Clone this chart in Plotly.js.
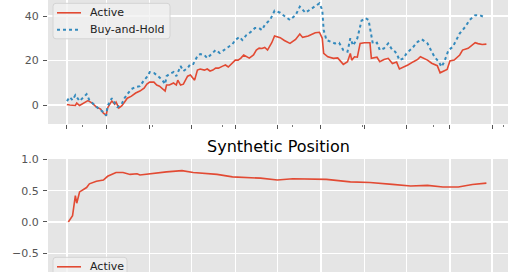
<!DOCTYPE html>
<html>
<head>
<meta charset="utf-8">
<script src="https://cdn.plot.ly/plotly-3.0.1.min.js"></script>
<style>
html,body{margin:0;padding:0;background:#fff;overflow:hidden;}
#chart{width:520px;height:292px;}
</style>
</head>
<body>
<div id="chart"></div>
<script>
// x values: trading days since start (gridlines at month starts)
const activeDays = [0,2,6,7,9,12,15,18,21,24,26,28,29,31,32,34,35,37,39,41,43,46,49,52,55,57,59,62,64,66,68,70,71,73,76,78,79,81,83,86,88,90,91,93,95,98,100,102,104,106,108,111,113,115,118,120,122,124,126,128,130,133,135,137,139,141,143,146,148,152,155,159,163,166,168,172,175,177,180,182,183,186,190,193,197,200,202,203,205,207,209,212,216,217,221,223,226,229,232,235,237,240,243,247,250,252,255,257,260,264,266,269,271,273,276,280,282,286,289,291,293,296,299];
const activeValues = [0.3,0,-0.2,0.9,-0.2,0.9,2.0,0.9,-0.9,-1.8,-3.6,-4.5,-1.3,0.9,1.8,0.4,1.3,-1.3,-0.4,1.3,3.1,4.0,5.4,6.3,7.6,9.4,10.3,10.3,9.0,8.5,7.6,6.3,9.0,9.0,9.9,9.0,11.2,9.0,9.4,13.0,13.5,12.1,11.2,15.7,16.2,15.7,16.2,15.3,15.7,16.6,16.6,17.5,18.0,17.1,18.9,20.2,20.2,21.1,22.5,21.6,21.1,22.5,24.7,25.6,25.4,25.9,24.7,28.0,31.0,30.3,29.0,27.7,29.5,31.9,30.4,31.0,31.9,32.5,32.7,30.0,23.2,21.7,21.0,21.2,18.3,19.5,23.2,20.2,21.7,21.5,27.7,28.0,28.0,21.0,21.5,19.5,20.5,21.0,18.7,19.3,16.2,17.0,18.0,19.5,20.5,21.7,21.0,20.2,18.8,17.7,14.5,15.5,16.0,19.8,20.2,22.5,24.7,25.5,26.8,28.0,27.6,27.2,27.4];

const holdDays = [0,2,4,6,9,11,14,16,19,22,25,28,29,31,32,34,36,39,41,43,46,49,52,55,57,59,62,65,68,70,71,73,76,78,81,83,86,88,90,93,95,98,100,103,106,109,112,115,118,120,123,125,128,131,134,137,139,141,145,148,152,155,159,163,166,170,173,177,180,182,183,185,188,191,194,197,200,202,204,207,210,213,215,217,218,221,223,226,229,232,234,236,237,240,242,246,250,253,257,260,262,265,267,269,272,275,278,280,284,287,291,294,298];
const holdValues = [1.8,3.6,2.2,4.5,1.8,3.1,4.9,2.2,0.4,-1.3,-2.7,-4.7,-0.4,2.2,3.1,0.9,-0.9,0.4,3.1,4.9,7.2,8.1,8.5,11.2,12.6,14.8,14.4,13.0,11.2,9.4,13.0,13.9,14.8,13.0,17.5,15.3,16.6,18.4,18.4,22.0,22.9,22.5,21.1,22.9,24.7,23.4,24.7,26.1,27.4,29.2,30.6,29.2,31.5,32.8,34.6,34.6,33.7,36.0,38.5,42.4,41.5,40.0,38.2,40.4,44.2,41.5,42.7,44.5,45.7,42.7,33.7,29.2,28.4,27.7,28.0,24.7,24.0,30.0,26.7,30.0,37.9,39.0,38.2,32.2,27.7,28.0,24.7,25.5,27.7,24.7,24.0,21.7,20.2,21.0,23.2,25.5,28.4,29.5,27.7,24.0,21.7,19.5,17.2,19.5,24.7,26.1,30.0,32.2,35.2,38.2,40.4,40.4,39.4];

const posDays = [1,4,6,7,9,14,16,21,26,29,35,40,45,50,52,59,71,82,90,107,118,138,150,161,185,202,216,232,245,257,268,279,289,299];
const posValues = [0,0.10,0.42,0.30,0.48,0.55,0.61,0.65,0.67,0.73,0.79,0.79,0.76,0.77,0.75,0.77,0.80,0.82,0.79,0.76,0.72,0.70,0.67,0.69,0.68,0.64,0.63,0.60,0.575,0.585,0.56,0.56,0.60,0.62];

const monthTicks = [0,28,59,89,120,150,181,212,242,273,303];
const topYTicks = [0,20,40];
const botYTicks = [-0.5,0.0,0.5,1.0];
const botYLabels = ['\u22120.5','0.0','0.5','1.0'];
const seriesNames = ['Active','Buy-and-Hold'];
const bottomTitle = 'Synthetic Position';

const RED = '#E24A33', BLUE = '#348ABD';
const H = 292;      // figure taller than the 272px window; bottom is cropped like the reference
const L = 48, PW = 460;
const font = {family:'DejaVu Sans, sans-serif', size:11, color:'#555555'};

const traces = [
  {x:activeDays, y:activeValues, type:'scatter', mode:'lines', name:seriesNames[0],
   line:{color:RED, width:1.6}, xaxis:'x', yaxis:'y'},
  {x:holdDays, y:holdValues, type:'scatter', mode:'lines', name:seriesNames[1],
   line:{color:BLUE, width:2, dash:'dot'}, xaxis:'x', yaxis:'y'},
  {x:posDays, y:posValues, type:'scatter', mode:'lines', name:seriesNames[0],
   line:{color:RED, width:1.6}, xaxis:'x2', yaxis:'y2'}
];

// --- legend boxes in the matplotlib style (built from the traces) ---
const X = px => (px - L) / PW;
const Y = py => 1 - py / H;
function roundRect(x0, y0, x1, y1, r) {
  const p = (x, y) => X(x) + ',' + Y(y);
  return `M${p(x0+r,y0)} L${p(x1-r,y0)} Q${p(x1,y0)} ${p(x1,y0+r)} L${p(x1,y1-r)} Q${p(x1,y1)} ${p(x1-r,y1)} ` +
         `L${p(x0+r,y1)} Q${p(x0,y1)} ${p(x0,y1-r)} L${p(x0,y0+r)} Q${p(x0,y0)} ${p(x0+r,y0)} Z`;
}
const shapes = [], annotations = [];
function addLegend(items, boxTop, boxRight) {
  const rowH = 17, firstOff = 9.5;
  const boxBottom = boxTop + firstOff + (items.length - 1) * rowH + 9;
  shapes.push({type:'path', xref:'paper', yref:'paper', path:roundRect(53, boxTop, boxRight, boxBottom, 3),
    fillcolor:'rgba(240,240,240,0.75)', line:{color:'#d4d4d4', width:1}});
  items.forEach((tr, i) => {
    const yy = boxTop + firstOff + i * rowH;
    shapes.push({type:'line', xref:'paper', yref:'paper', x0:X(57), x1:X(81), y0:Y(yy), y1:Y(yy),
      line:{color:tr.line.color, width:tr.line.dash ? 2 : 1.6, dash:tr.line.dash || 'solid'}});
    annotations.push({text:tr.name, xref:'paper', yref:'paper', x:X(88), y:Y(yy), xanchor:'left', yanchor:'middle',
      showarrow:false, font:{family:'DejaVu Sans, sans-serif', size:11, color:'#222222'}});
  });
}
addLegend([traces[0], traces[1]], 3.3, 170);
addLegend([traces[2]], 257.3, 127);

annotations.push({text:bottomTitle, xref:'paper', yref:'paper', x:0.5, y:Y(146),
  xanchor:'center', yanchor:'middle', showarrow:false,
  font:{family:'DejaVu Sans, sans-serif', size:16, color:'#000'}});

const xCommon = {
  range:[-13.5,314.4], tickmode:'array', tickvals:monthTicks, ticktext:monthTicks.map(()=>''),
  showgrid:true, gridcolor:'#ffffff', gridwidth:1.3, zeroline:false, showline:false,
  ticks:'outside', ticklen:4, tickcolor:'#555555', tickwidth:1,
  minor:{tickmode:'linear', tick0:11, dtick:50, ticks:'outside', ticklen:2, tickcolor:'#777777', showgrid:false}
};
const yCommon = {showgrid:true, gridcolor:'#ffffff', gridwidth:1.3, zeroline:false,
  ticks:'outside', ticklen:4, tickcolor:'#555555', tickfont:font, ticklabelstandoff:2};

const layout = {
  width:520, height:H,
  margin:{l:L, r:520-L-PW, t:0, b:0},
  paper_bgcolor:'#ffffff', plot_bgcolor:'#E5E5E5',
  font:font, showlegend:false,
  xaxis:Object.assign({}, xCommon, {anchor:'y', domain:[0,1]}),
  xaxis2:Object.assign({}, xCommon, {anchor:'y2', domain:[0,1], matches:'x'}),
  yaxis:Object.assign({}, yCommon, {domain:[Y(124), 1], range:[-8.5,47.2], tickmode:'array', tickvals:topYTicks}),
  yaxis2:Object.assign({}, yCommon, {domain:[0, Y(159)], range:[-1.118,1.006], tickmode:'array',
    tickvals:botYTicks, ticktext:botYLabels}),
  shapes:shapes,
  annotations:annotations
};

Plotly.newPlot('chart', traces, layout, {displayModeBar:false, staticPlot:true});
</script>
</body>
</html>
